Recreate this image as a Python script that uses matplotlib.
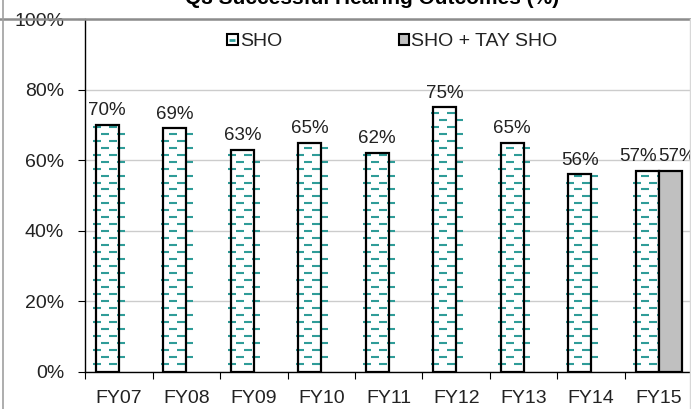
import numpy as np
import matplotlib.pyplot as plt
from matplotlib.lines import Line2D
from matplotlib.patches import Patch
from matplotlib.legend_handler import HandlerTuple

# 資料
years = ['FY07', 'FY08', 'FY09', 'FY10', 'FY11', 'FY12', 'FY13', 'FY14', 'FY15']
sho = [70, 69, 63, 65, 62, 75, 65, 56, 57]
tay_sho = [None, None, None, None, None, None, None, None, 57]
title = 'Q3 Successful Hearing Outcomes (%)'

teal = '#2f9c98'
plt.rcParams['font.family'] = ['Liberation Sans', 'DejaVu Sans']

fig = plt.figure(figsize=(6.91, 4.09), dpi=100)
ax = fig.add_axes([85 / 691, 37 / 409, 607.5 / 691, 353 / 409])

w = 0.34
x = np.arange(len(years))

for i, v in enumerate(sho):
    left = x[i] - w
    face = ax.bar(left, v, width=w, align='edge', color='white', linewidth=0, zorder=2)[0]
    ax.bar(left, v, width=w, align='edge', fill=False, edgecolor='black', linewidth=1.6, zorder=3)

    # 虛線花紋 (交錯排列)
    rows = np.arange(2.2, v, 1.98)
    xs, ys = [], []
    for k, yy in enumerate(rows):
        offs = [0.022, 0.259] if k % 2 == 0 else [0.141, 0.378]
        for o in offs:
            xs.append(left + o)
            ys.append(yy)
    ax.plot(xs, ys, ls='none', marker='_', ms=5.2, mew=1.5, color=teal,
            clip_path=face, zorder=2.5)

    shift = -0.13 if tay_sho[i] is not None else 0
    ax.text(left + w / 2 + shift, v + 1.6, f'{v}%', ha='center', va='bottom', fontsize=13.5, color='#222222')

for i, v in enumerate(tay_sho):
    if v is None:
        continue
    ax.bar(x[i], v, width=w, align='edge', color='#c0c0c0', edgecolor='black', linewidth=1.6, zorder=3)
    ax.text(x[i] + w / 2 + 0.1, v + 1.6, f'{v}%', ha='center', va='bottom', fontsize=13.5, color='#222222')

ax.set_xlim(-0.5, len(years) - 0.5)
ax.set_ylim(0, 100)
ax.set_yticks(range(0, 101, 20))
ax.set_yticklabels([f'{t}%' for t in range(0, 101, 20)], fontsize=14, color='#222222')
ax.set_xticks(x)
ax.set_xticklabels(years, fontsize=14, color='#222222')
ax.set_xticks(np.arange(-0.5, len(years)), minor=True)
ax.tick_params(axis='x', which='major', length=0, pad=13)
ax.tick_params(axis='x', which='minor', length=5, width=0.8, direction='out')
ax.tick_params(axis='y', length=5, width=0.8, pad=10)

ax.yaxis.grid(True, color='#cccccc', linewidth=1, zorder=0)
ax.set_axisbelow(True)
for s in ['top', 'right']:
    ax.spines[s].set_visible(False)
ax.spines['left'].set_linewidth(1)
ax.spines['bottom'].set_linewidth(1)

# 外框
fig.add_artist(Line2D([0, 1], [(409 - 18.5) / 409] * 2, color='#8c8c8c', lw=1.8, zorder=1))
fig.add_artist(Line2D([2.5 / 691] * 2, [0, 1], color='#a0a0a0', lw=1.2))
fig.add_artist(Line2D([690 / 691] * 2, [0, (409 - 18.5) / 409], color='#d8d8d8', lw=1))

# 標題 (上方被裁切)
fig.text(372 / 691, (409 - 4) / 409, title, ha='center', va='baseline', fontsize=15, fontweight='bold')

# 圖例
h1 = (Patch(facecolor='white', edgecolor='black', linewidth=1.5),
      Line2D([], [], ls='none', marker='_', ms=4, mew=2, color=teal))
h2 = Patch(facecolor='#c0c0c0', edgecolor='black', linewidth=1.5)
fig.legend([h1, h2], ['SHO', 'SHO + TAY SHO'], handler_map={tuple: HandlerTuple(ndivide=1, pad=0)},
           loc='center left', bbox_to_anchor=(227 / 691, (409 - 42) / 409), ncol=2, frameon=False,
           fontsize=14, handlelength=0.55, handleheight=0.55, handletextpad=0.1,
           columnspacing=6.0, borderpad=0, borderaxespad=0, numpoints=1, labelcolor='#222222')

fig.savefig('out.png', dpi=100)
